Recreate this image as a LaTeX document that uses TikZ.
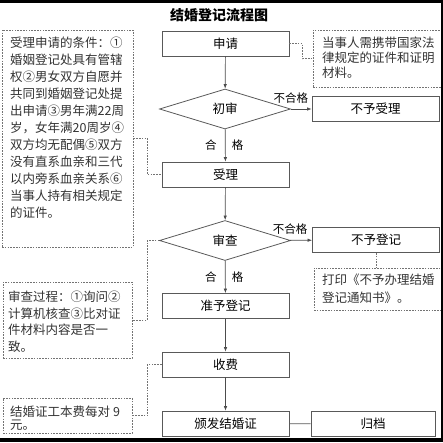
\documentclass[tikz,border=0pt]{standalone}
\usepackage{fontspec}
\newfontfamily\cjk{Noto Sans CJK SC}
\usetikzlibrary{shapes.geometric,arrows.meta}

\begin{document}
\begin{tikzpicture}[x=1pt,y=-1pt,
  font=\cjk\fontsize{12.5}{15}\selectfont,
  stepbox/.style={draw=black!65,line width=0.8pt,minimum width=127pt,minimum height=25pt,inner sep=0pt},
  check/.style={diamond,draw=black!65,line width=0.8pt,minimum width=131pt,minimum height=40pt,inner sep=0pt,aspect=3.3},
  flow/.style={draw=black!70,line width=0.7pt,-{Latex[length=4.5pt,width=3.5pt]}},
  memo/.style={draw=black!55,line width=0.8pt,dash pattern=on 1.6pt off 1.2pt,inner sep=0pt},
  link/.style={draw=black!55,line width=0.8pt,dash pattern=on 1.6pt off 1.2pt},
  memotext/.style={anchor=north west,inner sep=0pt,align=left,text=black!80},
  tag/.style={font=\cjk\fontsize{11.5}{13}\selectfont}]
\useasboundingbox (0,0) rectangle (443,442);

% title
\node[font=\cjk\bfseries\fontsize{14}{16}\selectfont] (title) at (219,15) {结婚登记流程图};

% main flow
\node[stepbox] (apply) at (225.5,43.5) {申请};
\node[check] (first) at (225,109) {初审};
\node[stepbox] (reject) at (375.5,109) {不予受理};
\node[stepbox] (accept) at (225.5,174.5) {受理};
\node[check] (review) at (225,240.5) {审查};
\node[stepbox] (deny) at (376,240) {不予登记};
\node[stepbox] (approve) at (225.5,306) {准予登记};
\node[stepbox] (fee) at (225.5,364.5) {收费};
\node[stepbox] (issue) at (225.5,423.5) {颁发结婚证};
\node[stepbox,minimum width=124pt] (archive) at (373,424) {归档};

% notes
\node[memo,minimum width=131pt,minimum height=217pt] (cond) at (67.5,138.5) {};
\node[memo,minimum width=130pt,minimum height=57pt] (carry) at (378,58.5) {};
\node[memo,minimum width=129pt,minimum height=76pt] (proc) at (67.5,320) {};
\node[memo,minimum width=129pt,minimum height=42pt] (notice) at (378.5,289) {};
\node[memo,minimum width=129pt,minimum height=35pt] (cost) at (67.5,415.5) {};

\node[memotext,font=\cjk\fontsize{12.5}{17}\selectfont] (condtext) at (10,37)
  {受理申请的条件：①\\婚姻登记处具有管辖\\权②男女双方自愿并\\共同到婚姻登记处提\\出申请③男年满22周\\岁，女年满20周岁④\\双方均无配偶⑤双方\\没有直系血亲和三代\\以内旁系血亲关系⑥\\当事人持有相关规定\\的证件。};
\node[memotext,font=\cjk\fontsize{12.5}{15}\selectfont] (carrytext) at (322,37)
  {当事人需携带国家法\\律规定的证件和证明\\材料。};
\node[memotext,font=\cjk\fontsize{12.5}{16.5}\selectfont] (proctext) at (8,291)
  {审查过程：①询问②\\计算机核查③比对证\\件材料内容是否一\\致。};
\node[memotext,font=\cjk\fontsize{12.5}{18}\selectfont] (noticetext) at (322,274)
  {打印《不予办理结婚\\登记通知书》。};
\node[memotext,font=\cjk\fontsize{12.5}{13}\selectfont] (costtext) at (10,406)
  {结婚证工本费每对 9\\元。};

% connectors
\draw[flow] (apply) -- (first);
\draw[flow] (first) -- node[tag,pos=0,above=2pt] {不合格} (reject);
\draw[flow] (first) -- node[tag,pos=0.48,left=5pt] {合} node[tag,pos=0.48,right=3pt] {格} (accept);
\draw[flow] (accept) -- (review);
\draw[flow] (review) -- node[tag,pos=0,above=2pt] {不合格} (deny);
\draw[flow] (review) -- node[tag,pos=0.5,left=5pt] {合} node[tag,pos=0.5,right=3pt] {格} (approve);
\draw[flow] (approve) -- (fee);
\draw[flow] (fee) -- (issue);
\draw[draw=black!65,line width=0.8pt] (issue) -- (archive);

\draw[link] (apply.east) -- ++(13,0) |- (carry.west);
\draw[link] (cond.east) -- ++(14,0) |- (accept.west);
\draw[link] (review.west) -- ++(-12,0) |- (proc.east);
\draw[link] (fee.west) -- ++(-14,0) |- (cost.east);
\draw[link] (deny.south) -- (deny.south |- notice.north);

% frame edges
\fill (0,0) rectangle (443,3);
\fill (441,0) rectangle (443,442);
\fill (0,438) rectangle (443,442);
\end{tikzpicture}
\end{document}
